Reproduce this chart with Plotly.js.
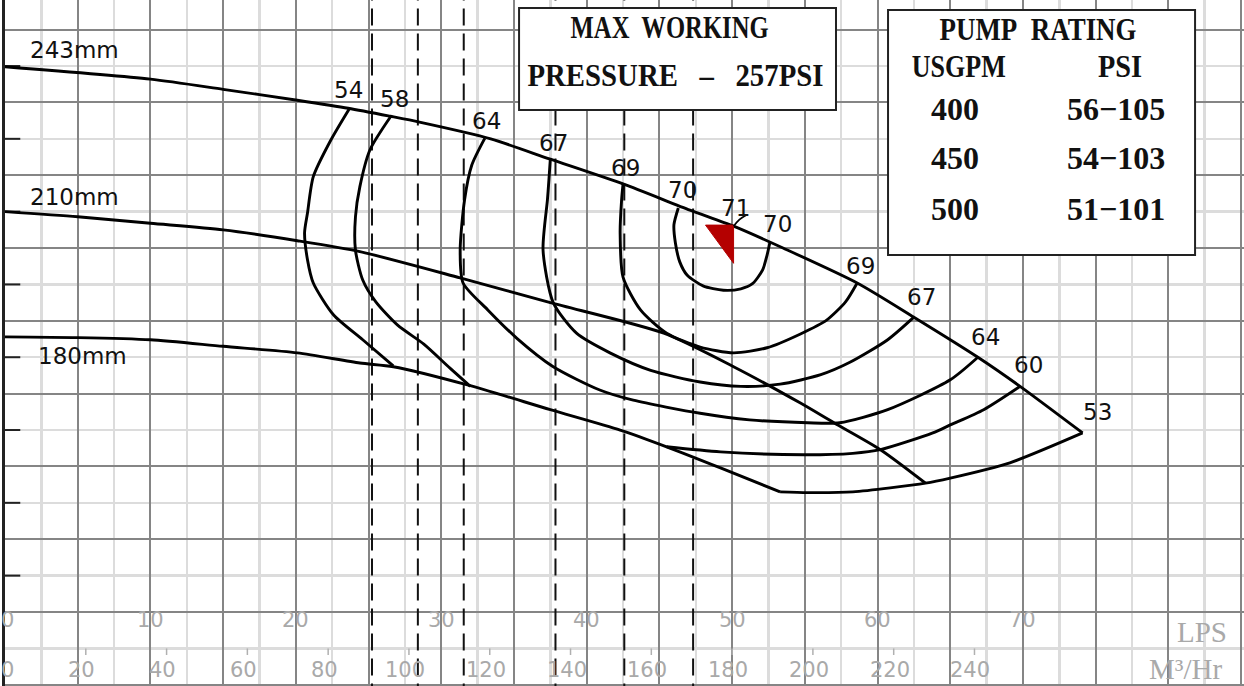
<!DOCTYPE html>
<html>
<head>
<meta charset="utf-8">
<script src="https://cdn.plot.ly/plotly-3.0.1.min.js"></script>
<style>
html,body{margin:0;padding:0;background:#fff;overflow:hidden;}
#chart{width:1244px;height:686px;}
</style>
</head>
<body>
<div id="chart"></div>
<script>
// ---------------- DATA (flow in LPS, head in chart grid units) ----------------
const lpsTicks = [0, 10, 20, 30, 40, 50, 60, 70];
const m3hTicks = [0, 20, 40, 60, 80, 100, 120, 140, 160, 180, 200, 220, 240];
const dashedGPM = [400, 450, 500, 600, 675, 750];
const headTicks = [5, 15, 25, 35, 45, 55, 65, 75];

const imp243Q = [0, 10, 15, 20.1, 23.6, 26.5, 28.5, 33.4, 37.5, 42.5, 47.1, 50.1, 53.5, 58.6, 62.5, 66.9, 69.8, 74.1];
const imp243H = [74.9, 73.2, 71.8, 70.3, 69.2, 68.1, 67.3, 65.0, 62.2, 58.8, 55.2, 53.0, 50.0, 45.2, 40.5, 35.0, 31.0, 24.6];

const imp210Q = [0, 5.0, 10, 15, 20.1, 24.4, 31.3, 37.5, 45.3, 50.1, 54.7, 57.0, 60.2, 63.3];
const imp210H = [55.0, 54.3, 53.4, 52.5, 51.0, 49.5, 45.9, 42.5, 38.3, 33.7, 28.7, 26.0, 22.3, 17.7];

const imp180Q = [0, 5.0, 10, 15, 20.1, 24.4, 26.7, 31.8, 37.5, 42.3, 45.5, 49.2, 53.3];
const imp180H = [37.8, 37.7, 37.4, 36.5, 35.6, 34.2, 33.7, 31.2, 27.8, 25.0, 22.7, 19.8, 16.5];

const eff54Q = [23.7, 22.4, 21.2, 20.8, 20.6, 20.8, 21.2, 22.6, 24.6, 26.7];
const eff54H = [69.2, 64.8, 59.8, 54.8, 52.1, 48.4, 45.2, 40.8, 37.4, 33.8];

const eff58Q = [26.5, 25.1, 24.4, 24.1, 24.1, 24.6, 25.5, 27.0, 28.8, 30.6, 32.0];
const eff58H = [68.0, 63.5, 58.4, 54.3, 49.7, 45.6, 42.6, 39.4, 36.8, 33.5, 31.0];

const eff64Q = [33.0, 32.1, 31.6, 31.3, 31.5, 33.2, 35.2, 37.7, 40.9, 43.2, 47.8, 51.2, 55.2, 57.4, 60.7, 65.0, 66.9];
const eff64H = [65.1, 61.4, 56.6, 49.7, 45.2, 41.5, 37.6, 33.7, 30.5, 29.1, 27.3, 26.4, 26.0, 26.0, 27.8, 31.9, 35.0];

const eff67Q = [37.5, 37.4, 37.3, 37.0, 37.7, 39.3, 41.6, 44.4, 47.8, 50.6, 53.3, 56.1, 58.1, 60.7, 62.5];
const eff67H = [62.2, 59.3, 56.6, 49.7, 42.5, 38.3, 35.6, 33.2, 31.6, 31.0, 31.3, 32.6, 34.3, 37.4, 40.5];

const eff69Q = [42.5, 42.4, 42.3, 42.5, 43.7, 45.5, 47.8, 50.1, 52.4, 54.7, 56.5, 57.8, 58.6];
const eff69H = [58.8, 56.6, 52.1, 46.0, 41.5, 38.3, 36.4, 35.6, 36.3, 38.2, 40.1, 42.6, 45.2];

const eff70Q = [46.3, 46.0, 46.1, 46.4, 46.9, 48.0, 49.4, 50.6, 51.4, 52.1, 52.4, 52.6];
const eff70H = [55.5, 53.2, 50.7, 48.1, 46.3, 44.8, 44.2, 44.4, 45.1, 47.0, 49.0, 50.8];

const eff60Q = [45.5, 49.2, 54.9, 58.3, 60.2, 63.8, 65.0, 67.3, 69.8];
const eff60H = [22.7, 22.0, 21.6, 21.8, 22.3, 24.6, 25.7, 27.8, 31.0];

const eff53Q = [53.3, 55.2, 58.3, 63.3, 65.0, 69.1, 74.1];
const eff53H = [16.5, 16.4, 16.5, 17.7, 18.4, 20.5, 24.6];

const bepQ = 50.1;
const bepH = 53.0;

const impellerNames = ['243mm', '210mm', '180mm'];
const effNames = ['54', '58', '64', '67', '69', '70', '71', '70', '69', '67', '64', '60', '53'];

const ratingGPM = ['400', '450', '500'];
const ratingPSI = ['56\u2212105', '54\u2212103', '51\u2212101'];
const maxPressure = '257PSI';

// ---------------- BUILD ----------------
const GPM_TO_LPS = 0.0630902;
const M3H_TO_LPS = 1 / 3.6;
const Y0 = -10.16, Y1 = 84.07;

const traces = [];

// dashed verticals
const dx = [], dy = [];
dashedGPM.forEach(g => { const q = g * GPM_TO_LPS; dx.push(q, q, null); dy.push(Y0 - 2, Y1 + 2, null); });
traces.push({x: dx, y: dy, mode: 'lines', line: {color: '#111', width: 2, dash: '17px,8px'}, hoverinfo: 'skip'});

// left ticks
const tx = [], ty = [];
headTicks.forEach(h => { tx.push(0, 1.05, null); ty.push(h, h, null); });
traces.push({x: tx, y: ty, mode: 'lines', line: {color: '#222', width: 2}, hoverinfo: 'skip'});

// m3/h ticks
const mx = [], my = [];
m3hTicks.slice(1).forEach(m => { const q = m * M3H_TO_LPS; mx.push(q, q, null); my.push(-5, -5.9, null); });
traces.push({x: mx, y: my, mode: 'lines', line: {color: '#b0b0b0', width: 1.5}, hoverinfo: 'skip'});

function curve(q, h) {
  traces.push({x: q, y: h, mode: 'lines', line: {color: '#000', width: 2.9, shape: 'spline', smoothing: 0.7}, hoverinfo: 'skip'});
}
curve(imp243Q, imp243H);
curve(imp210Q, imp210H);
curve(imp180Q, imp180H);
curve(eff54Q, eff54H);
curve(eff58Q, eff58H);
curve(eff64Q, eff64H);
curve(eff67Q, eff67H);
curve(eff69Q, eff69H);
curve(eff70Q, eff70H);
curve(eff60Q, eff60H);
curve(eff53Q, eff53H);

// BEP marker
traces.push({x: [bepQ - 1.93, bepQ, bepQ, bepQ - 1.93], y: [bepH + 0.15, bepH + 0.15, bepH - 5.1, bepH + 0.15],
  mode: 'lines', fill: 'toself', fillcolor: '#b40000', line: {color: '#b40000', width: 1}, hoverinfo: 'skip'});
traces.push({x: [bepQ, bepQ + 0.4, bepQ + 0.85], y: [bepH, bepH + 0.9, bepH + 1.5], mode: 'lines',
  line: {color: '#000', width: 1.8, shape: 'spline'}, hoverinfo: 'skip'});

// ---------------- LAYOUT ----------------
const annotations = [];
const sansFont = {family: 'DejaVu Sans, sans-serif', size: 23, color: '#111'};
const grayFont = {family: 'DejaVu Sans, sans-serif', size: 21, color: '#a9a9a9'};
const serifGray = {family: 'Liberation Serif, serif', size: 29, color: '#a9a9a9'};
const serifBox = {family: 'Liberation Serif, serif', size: 32, color: '#111', weight: 'bold'};

function ann(text, x, y, font, extra) {
  annotations.push(Object.assign({text: text, x: x, y: y, xref: 'x', yref: 'y', showarrow: false,
    font: font, xanchor: 'center', yanchor: 'middle'}, extra || {}));
}

lpsTicks.forEach(v => ann(String(v), v, -1.15, grayFont, v === 0 ? {xshift: 2} : {}));
m3hTicks.forEach(v => ann(String(v), v * M3H_TO_LPS, -7.95, grayFont, {xshift: v === 0 ? 2 : -4}));
ann('LPS', 82.3, -2.75, serifGray);
ann('M\u00b3/Hr', 81.15, -7.85, serifGray);

const impLabelPos = [[4.75, 77.2], [4.75, 57.0], [5.3, 35.2]];
impellerNames.forEach((t, i) => ann(t, impLabelPos[i][0], impLabelPos[i][1], sansFont));

const effLabelPos = [[23.6, 71.7], [26.75, 70.5], [33.1, 67.45], [37.75, 64.4], [42.7, 61.0], [46.6, 58.0],
  [50.2, 55.5], [53.15, 53.3], [58.8, 47.5], [63.05, 43.3], [67.45, 37.8], [70.35, 33.9], [75.1, 27.5]];
effNames.forEach((t, i) => ann(t, effLabelPos[i][0], effLabelPos[i][1], sansFont));

ann('MAX\u00a0 WORKING', 45.67, 80.3, serifBox);
ann('PRESSURE\u00a0\u00a0 \u2013\u00a0\u00a0 ' + maxPressure, 46.1, 73.8, serifBox);
ann('PUMP\u00a0 RATING', 71.0, 80.1, serifBox);
ann('USGPM', 65.6, 75.0, serifBox);
ann('PSI', 76.7, 75.0, serifBox);
const ratingY = [69.15, 62.4, 55.3];
ratingGPM.forEach((t, i) => ann(t, 65.3, ratingY[i], serifBox));
ratingPSI.forEach((t, i) => ann(t, 76.4, ratingY[i], serifBox));

const squeeze = {'MAX WORKING': 198, 'PRESSURE – 257PSI': 296, 'PUMP RATING': 197, 'USGPM': 94, 'PSI': 44};

const layout = {
  width: 1244, height: 686,
  margin: {l: 5, r: 0, t: 0, b: 0, pad: 0},
  paper_bgcolor: '#fff', plot_bgcolor: '#fff',
  showlegend: false, hovermode: false,
  xaxis: {range: [0, 85.2], tick0: 0, dtick: 5, showgrid: true, gridcolor: '#858585', gridwidth: 2,
    minor: {tick0: 0, dtick: 2.5, showgrid: true, gridcolor: '#dcdcdc', gridwidth: 2.5},
    zeroline: false, showticklabels: false, ticks: '', showline: false, fixedrange: true},
  yaxis: {range: [Y0, Y1], tick0: 0, dtick: 10, showgrid: true, gridcolor: '#858585', gridwidth: 2,
    minor: {tick0: 0, dtick: 5, showgrid: true, gridcolor: '#dcdcdc', gridwidth: 2.5},
    zeroline: false, showticklabels: false, ticks: '', showline: true, linecolor: '#222', linewidth: 3, fixedrange: true},
  shapes: [
    {type: 'rect', xref: 'paper', yref: 'paper', x0: 0.4149, x1: 0.6707, y0: 0.8397, y1: 0.9883,
      fillcolor: '#fff', line: {color: '#222', width: 2}, layer: 'above'},
    {type: 'rect', xref: 'paper', yref: 'paper', x0: 0.7127, x1: 0.9605, y0: 0.6283, y1: 0.9854,
      fillcolor: '#fff', line: {color: '#222', width: 2}, layer: 'above'}
  ],
  annotations: annotations
};

Plotly.newPlot('chart', traces, layout, {staticPlot: true, displayModeBar: false}).then(gd => {
  gd.querySelectorAll('text.annotation-text').forEach(t => {
    const key = t.textContent.replace(/\s+/g, ' ').trim();
    const w = squeeze[key];
    if (w) { t.setAttribute('textLength', w); t.setAttribute('lengthAdjust', 'spacingAndGlyphs'); }
  });
});
</script>
</body>
</html>
